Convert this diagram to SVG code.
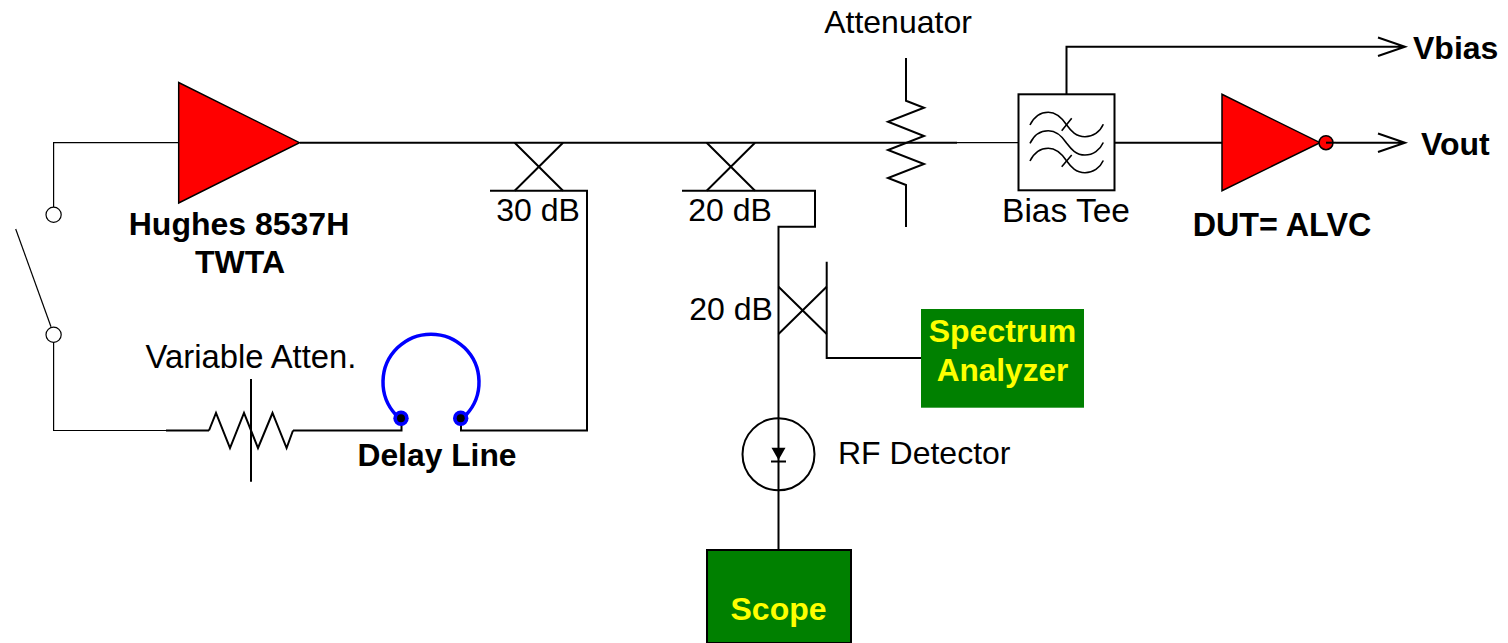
<svg xmlns="http://www.w3.org/2000/svg" width="1508" height="643" viewBox="0 0 1508 643">
<style>
.w{fill:none;stroke:#000;stroke-width:2}
.t{fill:none;stroke:#000;stroke-width:1.2}
.f{fill:none;stroke:#000;stroke-width:1.6}
text{font-family:"Liberation Sans",Arial,sans-serif;font-size:32px;fill:#000}
.b{font-weight:bold}
.y{font-weight:bold;fill:#ff0}
.amp{fill:#f00;stroke:#000;stroke-width:1.5}
</style>
<rect width="1508" height="643" fill="#fff"/>
<g id="connectors">
<path class="t" d="M178 142.7H53.6V207M53.6 342V430.5H166"/>
<path class="w" d="M300 142.7H957"/>
<path class="t" d="M957 142.7H1018.5"/>
<path class="w" d="M166 430.5H209M293 430.5H401.5V418M461 418V430.5H587V190.7H490"/>
<path class="w" d="M682 190.7H815V226.7H778.5V550"/>
<path class="w" d="M826.7 261.7V358H923"/>
<path class="w" d="M1114.5 142.7H1224M1336 142.7H1405M1378 133.5L1405 142.7L1378 152"/>
<path class="w" d="M1066.5 94V46.7H1405M1378 37.5L1405 46.7L1378 56"/>
</g>
<g id="switch">
<circle class="t" cx="53.6" cy="214.7" r="7.6"/>
<circle class="t" cx="53.6" cy="334.7" r="7.6"/>
<path class="t" d="M15.7 229L51 326.7"/>
</g>
<g id="twta">
<path class="amp" d="M178.7 82.5V203L299.5 142.7Z"/>
<text class="b" x="239" y="235" text-anchor="middle">Hughes 8537H</text>
<text class="b" x="240" y="273" text-anchor="middle">TWTA</text>
</g>
<g id="coupler-30">
<path class="w" d="M514.7 142.7L563 190.7M563 142.7L514.7 190.7"/>
<text x="538" y="221" text-anchor="middle">30 dB</text>
</g>
<g id="coupler-20a">
<path class="w" d="M706.7 142.7L755 190.7M755 142.7L706.7 190.7"/>
<text x="730" y="221" text-anchor="middle">20 dB</text>
</g>
<g id="coupler-20b">
<path class="w" d="M778.5 286.7L826.7 334M826.7 286.7L778.5 334"/>
<text x="731" y="320" text-anchor="middle">20 dB</text>
</g>
<g id="attenuator">
<path class="w" d="M906 58V100.7L924 107.7L888 121.7L924 136L888 150L924 164L888 178L906 185V227"/>
<text x="898" y="33" text-anchor="middle">Attenuator</text>
</g>
<g id="bias-tee">
<rect class="w" x="1018.5" y="94.3" width="96" height="96" fill="#fff"/>
<path class="f" d="M1030 125C1034 117 1041 112.3 1048.3 112.3C1056 112.3 1062 118 1066.7 125C1071 131 1076 136.7 1085 136.7C1093 136.7 1100 132 1103.3 124.3"/>
<path class="f" d="M1030 143.3C1034 135 1041 130.7 1048.3 130.7C1056 130.7 1062 136 1066.7 143.3C1071 149 1076 155 1085 155C1093 155 1100 150 1103.3 142.5"/>
<path class="f" d="M1030 161C1034 153 1041 148.3 1048.3 148.3C1056 148.3 1062 154 1066.7 161C1071 167 1076 172.7 1085 172.7C1093 172.7 1100 168 1103.3 160.5"/>
<path class="f" d="M1061.7 130.7L1071.7 118.3M1061.7 166.7L1071.7 155"/>
<text x="1066" y="222" text-anchor="middle" style="font-size:33.5px">Bias Tee</text>
</g>
<g id="dut">
<path class="amp" d="M1222 94.3V190.7L1320 142.7Z"/>
<circle class="amp" cx="1326" cy="142.7" r="7"/>
<path class="w" d="M1326 142.7H1336"/>
<text class="b" x="1282" y="236" text-anchor="middle" style="font-size:32.3px">DUT= ALVC</text>
</g>
<g id="vbias"><text class="b" x="1413" y="59">Vbias</text></g>
<g id="vout"><text class="b" x="1421" y="155">Vout</text></g>
<g id="variable-atten">
<path class="w" d="M209 430.5L216 413L230 448L244 413L258 448L272.5 413L286.6 448L293 430.5"/>
<path class="w" d="M251 379V481.7"/>
<text x="251" y="368" text-anchor="middle" style="font-size:32.8px">Variable Atten.</text>
</g>
<g id="delay-line">
<path d="M396 415A48 48 0 1 1 466 415" fill="none" stroke="#00f" stroke-width="3.5"/>
<circle cx="401" cy="418.3" r="7.7" fill="#00f"/><circle cx="401" cy="418.3" r="4" fill="#000"/>
<circle cx="460.7" cy="418.3" r="7.7" fill="#00f"/><circle cx="460.7" cy="418.3" r="4" fill="#000"/>
<text class="b" x="437" y="466" text-anchor="middle" style="font-size:31.8px">Delay Line</text>
</g>
<g id="spectrum-analyzer">
<rect x="921" y="309" width="163" height="98.7" fill="#008000"/>
<text class="y" x="1002.5" y="342" text-anchor="middle">Spectrum</text>
<text class="y" x="1002.5" y="381" text-anchor="middle" style="font-size:31.6px">Analyzer</text>
</g>
<g id="rf-detector">
<circle class="w" cx="778.5" cy="454.3" r="36"/>
<path d="M771.5 447.7H785.5L778.5 460Z" fill="#000"/>
<path class="w" d="M771 461.5H786"/>
<text x="838" y="464">RF Detector</text>
</g>
<g id="scope">
<rect x="707" y="550" width="144" height="93" fill="#008000" stroke="#000" stroke-width="2"/>
<text class="y" x="778.5" y="620" text-anchor="middle">Scope</text>
</g>
</svg>
